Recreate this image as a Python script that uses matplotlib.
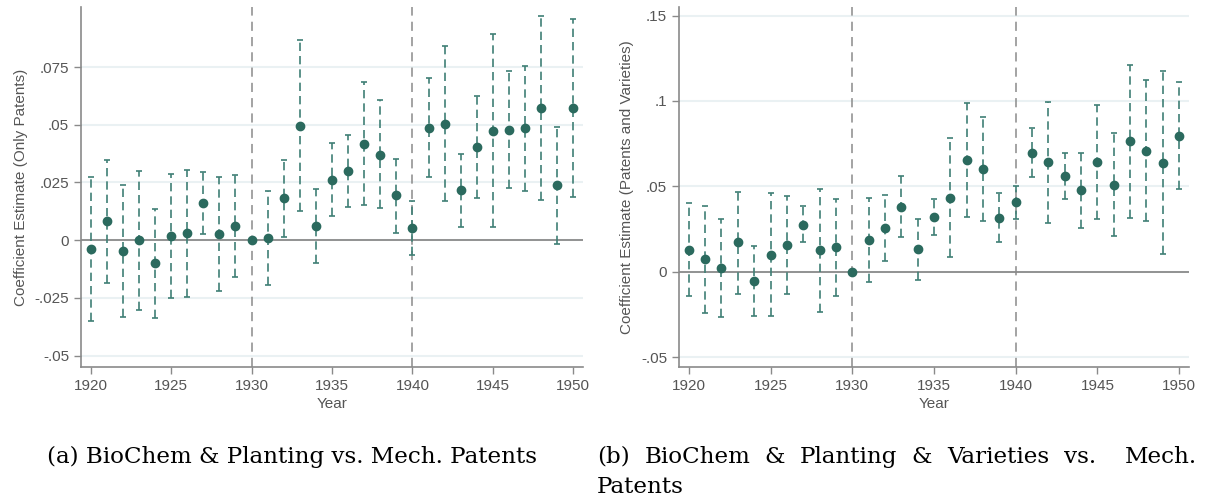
import numpy as np
import matplotlib
matplotlib.use("Agg")
import matplotlib.pyplot as plt

years = list(range(1920, 1951))

# panel (a): only patents
est_a = [-0.0039, 0.0082, -0.0046, 0.0000, -0.0098, 0.0019, 0.0030, 0.0163, 0.0027, 0.0061,
         0.0000, 0.0010, 0.0181, 0.0495, 0.0062, 0.0261, 0.0299, 0.0417, 0.0371, 0.0194,
         0.0052, 0.0487, 0.0505, 0.0217, 0.0404, 0.0474, 0.0479, 0.0485, 0.0572, 0.0238, 0.0572]
hi_a = [0.0275, 0.0347, 0.0241, 0.0299, 0.0137, 0.0286, 0.0306, 0.0296, 0.0274, 0.0283,
        0.0000, 0.0214, 0.0347, 0.0867, 0.0222, 0.0419, 0.0455, 0.0686, 0.0607, 0.0352,
        0.0170, 0.0702, 0.0841, 0.0373, 0.0625, 0.0891, 0.0732, 0.0755, 0.0971, 0.0491, 0.0956]
lo_a = [-0.0351, -0.0185, -0.0332, -0.0303, -0.0335, -0.0250, -0.0248, 0.0029, -0.0220, -0.0159,
        0.0000, -0.0192, 0.0014, 0.0126, -0.0097, 0.0104, 0.0143, 0.0152, 0.0139, 0.0033,
        -0.0065, 0.0274, 0.0170, 0.0059, 0.0182, 0.0056, 0.0227, 0.0214, 0.0176, -0.0016, 0.0188]

# panel (b): patents and varieties
est_b = [0.0129, 0.0074, 0.0021, 0.0172, -0.0055, 0.0098, 0.0156, 0.0277, 0.0125, 0.0143,
         0.0000, 0.0188, 0.0258, 0.0381, 0.0131, 0.0320, 0.0432, 0.0657, 0.0604, 0.0317,
         0.0406, 0.0698, 0.0641, 0.0561, 0.0477, 0.0645, 0.0510, 0.0766, 0.0709, 0.0639, 0.0797]
hi_b = [0.0404, 0.0387, 0.0309, 0.0467, 0.0150, 0.0459, 0.0444, 0.0383, 0.0487, 0.0428,
        0.0000, 0.0434, 0.0449, 0.0561, 0.0309, 0.0426, 0.0786, 0.0991, 0.0905, 0.0461,
        0.0500, 0.0842, 0.0996, 0.0698, 0.0698, 0.0979, 0.0811, 0.1213, 0.1122, 0.1174, 0.1112]
lo_b = [-0.0143, -0.0240, -0.0264, -0.0127, -0.0258, -0.0258, -0.0129, 0.0172, -0.0238, -0.0141,
        0.0000, -0.0061, 0.0064, 0.0203, -0.0049, 0.0213, 0.0084, 0.0320, 0.0299, 0.0174,
        0.0311, 0.0553, 0.0285, 0.0424, 0.0254, 0.0311, 0.0209, 0.0315, 0.0299, 0.0102, 0.0485]

yticks_a = [-0.05, -0.025, 0, 0.025, 0.05, 0.075]
ylabels_a = ["-.05", "-.025", "0", ".025", ".05", ".075"]
yticks_b = [-0.05, 0, 0.05, 0.1, 0.15]
ylabels_b = ["-.05", "0", ".05", ".1", ".15"]
xticks = [1920, 1925, 1930, 1935, 1940, 1945, 1950]

DOT = "#2b6a5e"
BAR = "#3f7f75"
GRAY = "#8a8a8a"
GRID = "#eaf1f3"
TXT = "#555555"

plt.rcParams["font.family"] = ["Liberation Sans", "DejaVu Sans"]

W, H = 1209, 500
fig = plt.figure(figsize=(W / 100, H / 100), dpi=100)


def panel(rect, est, lo, hi, yticks, ylabels, ylim, ylab):
    l, t, r, b = rect
    ax = fig.add_axes([l / W, 1 - b / H, (r - l) / W, (b - t) / H])
    ax.set_xlim(1919.4, 1950.6)
    ax.set_ylim(*ylim)
    for y in yticks:
        ax.axhline(y, color=GRID, lw=1.5, zorder=0)
    ax.axhline(0, color=GRAY, lw=1.3, zorder=1)
    for x in (1930, 1940):
        ax.axvline(x, color=GRAY, lw=1.1, ls=(0, (6, 4)), zorder=1)
    yrs = np.array(years)
    e = np.array(est)
    err = np.vstack([e - np.array(lo), np.array(hi) - e])
    has = (np.array(hi) - np.array(lo)) > 0
    eb = ax.errorbar(yrs[has], e[has], yerr=err[:, has], fmt="none", ecolor=BAR,
                     elinewidth=1.2, capsize=2.5, capthick=1.2, zorder=2)
    eb[2][0].set_linestyle((0, (5, 3)))
    ax.plot(yrs, e, "o", color=DOT, ms=6, mec=DOT, zorder=3)
    ax.set_xticks(xticks)
    ax.set_yticks(yticks)
    ax.set_yticklabels(ylabels)
    for s in ("top", "right"):
        ax.spines[s].set_visible(False)
    for s in ("left", "bottom"):
        ax.spines[s].set_color(GRAY)
        ax.spines[s].set_linewidth(1.2)
    ax.tick_params(colors=GRAY, labelcolor=TXT, labelsize=11, length=5, width=1)
    ax.set_xlabel("Year", color=TXT, fontsize=11, labelpad=3)
    ax.set_ylabel(ylab, color=TXT, fontsize=11, labelpad=5)
    return ax


panel((81, 7, 583, 367), est_a, lo_a, hi_a, yticks_a, ylabels_a, (-0.0549, 0.101),
      "Coefficient Estimate (Only Patents)")
panel((679, 7, 1189, 367), est_b, lo_b, hi_b, yticks_b, ylabels_b, (-0.0557, 0.155),
      "Coefficient Estimate (Patents and Varieties)")

serif = ["DejaVu Serif"]
cap_fs = 16.6
fig.text(47 / W, 1 - 463 / H, "(a) BioChem & Planting vs. Mech. Patents",
         family=serif, fontsize=cap_fs, color="black", va="baseline")

# caption (b) is justified between x=597 and x=1197, extra space before "Mech."
words_b = ["(b)", "BioChem", "&", "Planting", "&", "Varieties", "vs.", "Mech."]
gap_w = [1, 1, 1, 1, 1, 1, 2]
x0, x1 = 597, 1197
rend = fig.canvas.get_renderer()
objs = [fig.text(0, 1 - 463 / H, wd, family=serif, fontsize=cap_fs, color="black",
                 va="baseline") for wd in words_b]
widths = [o.get_window_extent(renderer=rend).width for o in objs]
unit = (x1 - x0 - sum(widths)) / sum(gap_w)
x = x0
for i, o in enumerate(objs):
    o.set_x(x / W)
    x += widths[i] + (unit * gap_w[i] if i < len(gap_w) else 0)
fig.text(597 / W, 1 - 493 / H, "Patents", family=serif, fontsize=cap_fs, color="black",
         va="baseline")

fig.savefig("out.png", dpi=100)
